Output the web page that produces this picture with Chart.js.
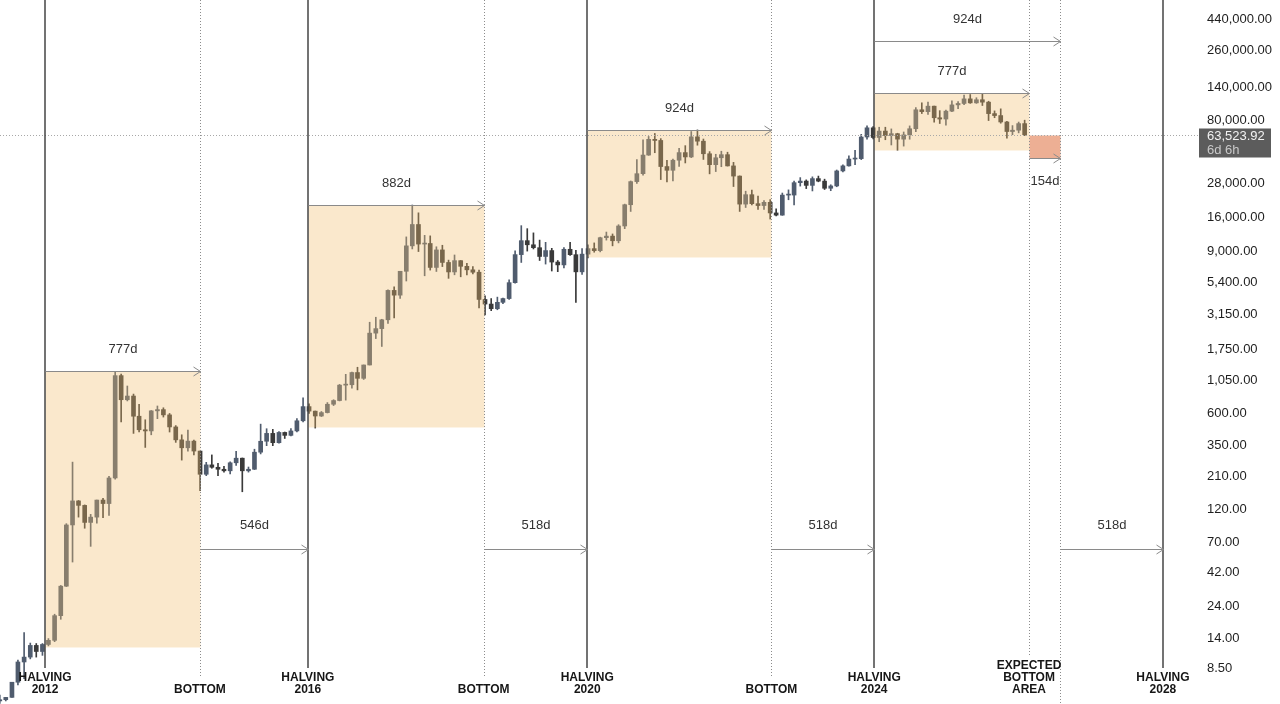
<!DOCTYPE html>
<html><head><meta charset="utf-8">
<script src="https://cdn.jsdelivr.net/npm/chart.js@4.4.1/dist/chart.umd.min.js"></script>
<style>html,body{margin:0;padding:0;background:#fff;overflow:hidden}#wrap{position:relative;width:1280px;height:704px}</style>
</head><body><div id="wrap"><canvas id="c"></canvas></div>
<script>
// ---- monthly candles ----
const months = [
 '2012-04','2012-05','2012-06','2012-07','2012-08','2012-09','2012-10','2012-11','2012-12',
 '2013-01','2013-02','2013-03','2013-04','2013-05','2013-06','2013-07','2013-08','2013-09','2013-10','2013-11','2013-12',
 '2014-01','2014-02','2014-03','2014-04','2014-05','2014-06','2014-07','2014-08','2014-09','2014-10','2014-11','2014-12',
 '2015-01','2015-02','2015-03','2015-04','2015-05','2015-06','2015-07','2015-08','2015-09','2015-10','2015-11','2015-12',
 '2016-01','2016-02','2016-03','2016-04','2016-05','2016-06','2016-07','2016-08','2016-09','2016-10','2016-11','2016-12',
 '2017-01','2017-02','2017-03','2017-04','2017-05','2017-06','2017-07','2017-08','2017-09','2017-10','2017-11','2017-12',
 '2018-01','2018-02','2018-03','2018-04','2018-05','2018-06','2018-07','2018-08','2018-09','2018-10','2018-11','2018-12',
 '2019-01','2019-02','2019-03','2019-04','2019-05','2019-06','2019-07','2019-08','2019-09','2019-10','2019-11','2019-12',
 '2020-01','2020-02','2020-03','2020-04','2020-05','2020-06','2020-07','2020-08','2020-09','2020-10','2020-11','2020-12',
 '2021-01','2021-02','2021-03','2021-04','2021-05','2021-06','2021-07','2021-08','2021-09','2021-10','2021-11','2021-12',
 '2022-01','2022-02','2022-03','2022-04','2022-05','2022-06','2022-07','2022-08','2022-09','2022-10','2022-11','2022-12',
 '2023-01','2023-02','2023-03','2023-04','2023-05','2023-06','2023-07','2023-08','2023-09','2023-10','2023-11','2023-12',
 '2024-01','2024-02','2024-03','2024-04','2024-05','2024-06','2024-07','2024-08','2024-09','2024-10','2024-11','2024-12',
 '2025-01','2025-02','2025-03','2025-04','2025-05','2025-06','2025-07','2025-08','2025-09','2025-10','2025-11','2025-12',
 '2026-01','2026-02','2026-03','2026-04','2026-05'
];
const open = [
 4.9,5.0,5.2,6.7,9.4,10.2,12.4,11.2,12.6,
 13.5,20.4,33.4,93,139,129,97,106,141,133,204,1130,
 755,803,573,457,448,627,640,586,479,386,338,378,
 320,217,254,244,236,230,263,284,230,236,314,377,
 430,368,437,416,448,531,673,624,575,609,700,745,
 964,970,1190,1080,1350,2300,2480,2875,4700,4340,6470,9900,
 14150,10200,10300,6900,9250,7500,6400,7730,7030,6630,6370,4040,
 3740,3460,3850,4100,5350,8550,10800,10080,9600,8290,9150,7550,
 7200,9350,8540,6410,8620,9450,9140,11350,11650,10780,13800,19700,
 28990,33100,45200,58800,57700,37300,35040,41460,47100,43800,61300,57000,
 46200,38500,43200,45500,37700,31800,19900,23300,20050,19430,20500,17170,
 16550,23140,23150,28480,29250,27220,30480,29230,25940,26970,34660,37720,
 42280,42580,61130,71300,60640,67500,62680,64630,58970,63330,70200,96400,
 93430,102400,84350,82550,94200,104600,107100,115700,108200,114000,109500,90400,
 87500,78600,67000,68500,76500
];
const high = [
 5.4,5.2,6.7,9.7,15.4,12.9,12.8,12.8,13.9,
 20.9,33.8,95,266,140,130,111,141,145,210,1200,1160,
 950,830,700,540,630,680,660,600,490,420,455,385,
 320,265,300,261,248,267,318,285,245,330,502,465,
 460,443,440,467,550,780,705,625,620,720,755,975,
 1155,1200,1300,1350,2760,3000,2900,4740,4980,6470,11500,19600,
 17200,11800,11700,9750,10000,7800,8500,7750,7400,7000,6600,4300,
 4100,4200,4140,5600,9100,13880,13200,12300,10900,10500,9500,7750,
 9600,10500,9200,9450,10060,10400,11450,12470,12080,14100,19900,29300,
 41950,58330,61700,64850,59500,41300,42300,50500,52900,67000,68800,59100,
 47900,45800,48200,47400,40000,31900,24700,25200,22800,21100,21450,18400,
 23950,25250,29200,31000,29850,31400,31800,30200,27500,35200,38400,44700,
 48970,63900,73800,72800,72000,72000,70000,65100,66500,73600,99800,108300,
 109500,102500,95000,95800,111900,110600,123200,124400,117900,126200,111200,94600,
 97900,79500,74000,78500,81000
];
const low = [
 4.7,4.9,5.2,6.4,7.1,9.9,10.2,10.5,12.3,
 13.2,19.2,33.2,50,106,88,65,96,105,109,200,520,
 740,430,440,340,420,550,565,440,370,275,320,300,
 165,212,240,212,225,218,252,162,225,235,305,350,
 350,365,395,412,440,520,600,470,570,605,685,740,
 750,915,890,1060,1350,2100,1840,2700,2970,4110,5500,9400,
 9000,6000,6600,6450,7000,5750,6100,5900,6100,6200,3500,3120,
 3350,3400,3770,4050,5300,7500,9070,9400,7750,7300,6500,6430,
 6850,8450,3850,6150,8100,8900,8950,10900,9900,10400,13200,17600,
 28100,32300,44950,47000,30000,28800,29300,37300,39600,43300,53300,42000,
 33000,34300,37200,37600,26700,17600,18800,19600,18200,18200,15500,16300,
 16500,21400,19600,26900,25800,24800,28900,25400,24900,26600,34100,37600,
 38500,41900,59000,59200,56500,58400,53500,49000,52500,58900,66800,90500,
 89200,78200,76600,74500,93400,98200,105100,107300,107300,103500,80500,84400,
 77000,60000,63500,65500,62500
];
const close = [
 5.0,5.2,6.7,9.4,10.2,12.4,11.2,12.6,13.5,
 20.4,33.4,93,139,129,97,106,141,133,204,1130,755,
 803,573,457,448,627,640,586,479,386,338,378,320,
 217,254,244,236,230,263,284,230,236,314,377,430,
 368,437,416,448,531,673,624,575,609,700,745,964,
 970,1190,1080,1350,2300,2480,2875,4700,4340,6470,9900,14150,
 10200,10300,6900,9250,7500,6400,7730,7030,6630,6370,4040,3740,
 3460,3850,4100,5350,8550,10800,10080,9600,8290,9150,7550,7200,
 9350,8540,6410,8620,9450,9140,11350,11650,10780,13800,19700,28990,
 33100,45200,58800,57700,37300,35040,41460,47100,43800,61300,57000,46200,
 38500,43200,45500,37700,31800,19900,23300,20050,19430,20500,17170,16550,
 23140,23150,28480,29250,27220,30480,29230,25940,26970,34660,37720,42280,
 42580,61130,71300,60640,67500,62680,64630,58970,63330,70200,96400,93430,
 102400,84350,82550,94200,104600,107100,115700,108200,114000,109500,90400,87500,
 78600,67000,68500,76500,63523.92
];
const lastPrice = 63523.92;
const lastCountdown = '6d 6h';

// ---- y axis tick labels ----
const priceTicks = [8.5,14,24,42,70,120,210,350,600,1050,1750,3150,5400,9000,16000,28000,80000,140000,260000,440000];

// ---- cycle events ----
const halvingDates = ['2012-11-28','2016-07-09','2020-05-11','2024-04-20','2028-04-08'];
const halvingYears = ['2012','2016','2020','2024','2028'];
const bottomDates = ['2015-01-14','2018-12-08','2022-11-21'];
const expectedStart = '2026-06-06';
const expectedEnd = '2026-11-07';

// cycle boxes: halving -> bottom, price range
const boxStart = ['2012-11-28','2016-07-09','2020-05-11','2024-04-20'];
const boxEnd = ['2015-01-14','2018-12-08','2022-11-21','2026-06-06'];
const boxHigh = [1221,19600,68730,127600];
const boxLow = [12.07,478,8215,49180];
const boxDays = ['777d','882d','924d','777d'];

// bottom -> next halving spans
const gapStart = ['2015-01-14','2018-12-08','2022-11-21','2026-11-07'];
const gapEnd = ['2016-07-09','2020-05-11','2024-04-20','2028-04-08'];
const gapPrice = [62,62,62,62];
const gapDays = ['546d','518d','518d','518d'];

// halving 2024 -> end of expected area
const longStart = '2024-04-20', longEnd = '2026-11-07', longPrice = 304500, longDays = '924d';

// expected bottom area box
const areaHigh = 63523.92, areaLow = 43020, areaDays = '154d';

// ---------------------------------------------
const day = s => Date.parse(s + 'T00:00:00Z');
const mid = m => Date.parse(m + '-15T00:00:00Z');
const UP = '#505c6e', DOWN = '#3a3a3a';
const colorOf = ctx => close[ctx.dataIndex] >= open[ctx.dataIndex] ? UP : DOWN;
const FONT = "'Liberation Sans', Arial, sans-serif";

const overlay = {
  id: 'overlay',
  afterDatasetsDraw(chart) {
    const { ctx, chartArea: a, scales: { x, y } } = chart;
    const X = d => Math.round(x.getPixelForValue(day(d))) + 0.5;
    const Y = v => Math.round(y.getPixelForValue(v)) + 0.5;
    ctx.save();
    // boxes
    ctx.fillStyle = 'rgba(242,190,110,0.35)';
    boxStart.forEach((s, i) => {
      const x0 = X(s), x1 = X(boxEnd[i]), y0 = Y(boxHigh[i]), y1 = Y(boxLow[i]);
      ctx.fillRect(x0, y0, x1 - x0, y1 - y0);
    });
    ctx.fillStyle = 'rgba(222,110,60,0.55)';
    {
      const x0 = X(expectedStart), x1 = X(expectedEnd), y0 = Y(areaHigh), y1 = Y(areaLow);
      ctx.fillRect(x0, y0, x1 - x0, y1 - y0);
    }
    // last price dotted line
    ctx.strokeStyle = '#a8a8a8'; ctx.lineWidth = 1; ctx.setLineDash([1, 2]);
    const py = Y(lastPrice);
    ctx.beginPath(); ctx.moveTo(a.left, py); ctx.lineTo(a.right, py); ctx.stroke();
    // dotted verticals
    ctx.strokeStyle = '#8c8c8c';
    const vline = (xx, y1) => { ctx.beginPath(); ctx.moveTo(xx, a.top); ctx.lineTo(xx, y1); ctx.stroke(); };
    bottomDates.forEach(d => vline(X(d), a.bottom - 28));
    vline(X(expectedStart), a.bottom - 49);
    vline(X(expectedEnd), a.bottom);
    // halving lines
    ctx.setLineDash([]);
    ctx.strokeStyle = '#444'; ctx.lineWidth = 1.5;
    halvingDates.forEach(d => { const xx = Math.round(x.getPixelForValue(day(d))); ctx.beginPath(); ctx.moveTo(xx, a.top); ctx.lineTo(xx, a.bottom - 36); ctx.stroke(); });
    // arrows
    ctx.strokeStyle = '#8a8a8a'; ctx.lineWidth = 1;
    ctx.fillStyle = '#333'; ctx.font = '13px ' + FONT; ctx.textAlign = 'center'; ctx.textBaseline = 'middle';
    const arrow = (x0, x1, yy, label, dy) => {
      ctx.beginPath(); ctx.moveTo(x0, yy); ctx.lineTo(x1, yy); ctx.stroke();
      ctx.beginPath(); ctx.moveTo(x1 - 7, yy - 4.5); ctx.lineTo(x1, yy); ctx.lineTo(x1 - 7, yy + 4.5); ctx.stroke();
      ctx.fillText(label, (x0 + x1) / 2, yy + dy);
    };
    boxStart.forEach((s, i) => arrow(X(s), X(boxEnd[i]), Y(boxHigh[i]), boxDays[i], -22));
    gapStart.forEach((s, i) => arrow(X(s), X(gapEnd[i]), Y(gapPrice[i]), gapDays[i], -24));
    arrow(X(longStart), X(longEnd), Y(longPrice), longDays, -22);
    arrow(X(expectedStart), X(expectedEnd), Y(areaLow), areaDays, 23);
    // bottom labels
    ctx.fillStyle = '#161616'; ctx.font = 'bold 12px ' + FONT;
    halvingDates.forEach((d, i) => {
      const xx = x.getPixelForValue(day(d));
      ctx.fillText('HALVING', xx, a.bottom - 26);
      ctx.fillText(halvingYears[i], xx, a.bottom - 14);
    });
    bottomDates.forEach(d => ctx.fillText('BOTTOM', x.getPixelForValue(day(d)), a.bottom - 14));
    const ex = x.getPixelForValue(day(expectedStart));
    ctx.fillText('EXPECTED', ex, a.bottom - 38);
    ctx.fillText('BOTTOM', ex, a.bottom - 26);
    ctx.fillText('AREA', ex, a.bottom - 14);
    // last price tag
    const tx = a.right + 1;
    ctx.fillStyle = '#5c5c5c';
    ctx.fillRect(tx, py - 7, 72, 29);
    ctx.textAlign = 'left'; ctx.font = '13px ' + FONT;
    ctx.fillStyle = '#f2f2f2';
    ctx.fillText(lastPrice.toLocaleString('en-US', { minimumFractionDigits: 2, maximumFractionDigits: 2 }), a.right + 9, py + 1);
    ctx.fillStyle = '#c9c9c9';
    ctx.fillText(lastCountdown, a.right + 9, py + 15);
    ctx.restore();
  }
};

new Chart(document.getElementById('c'), {
  type: 'bar',
  data: {
    datasets: [
      { label: 'range', data: months.map((m, i) => ({ x: mid(m), y: [low[i], high[i]] })),
        backgroundColor: colorOf, barThickness: 1, minBarLength: 1, grouped: false },
      { label: 'body', data: months.map((m, i) => ({ x: mid(m), y: [open[i], close[i]] })),
        backgroundColor: colorOf, barThickness: 4, minBarLength: 1, grouped: false }
    ]
  },
  options: {
    responsive: true, maintainAspectRatio: false, animation: false, devicePixelRatio: 1,
    layout: { padding: 0 },
    plugins: { legend: { display: false }, tooltip: { enabled: false } },
    scales: {
      x: { type: 'linear', display: false, offset: false, min: day('2012-04-16'), max: day('2028-10-01') },
      y: {
        type: 'logarithmic', position: 'right', min: 4.655, max: 604500, bounds: 'data',
        grid: { display: false, drawTicks: false }, border: { display: false },
        afterBuildTicks: s => { s.ticks = priceTicks.map(v => ({ value: v })); },
        afterFit: s => { s.width = 82; s.paddingTop = 0; s.paddingBottom = 0; },
        ticks: { autoSkip: false, padding: 9, color: '#1e1e1e', font: { family: FONT, size: 13 },
          callback: v => Number(v).toLocaleString('en-US', { minimumFractionDigits: 2, maximumFractionDigits: 2 }) }
      }
    }
  },
  plugins: [overlay]
});
</script></body></html>
